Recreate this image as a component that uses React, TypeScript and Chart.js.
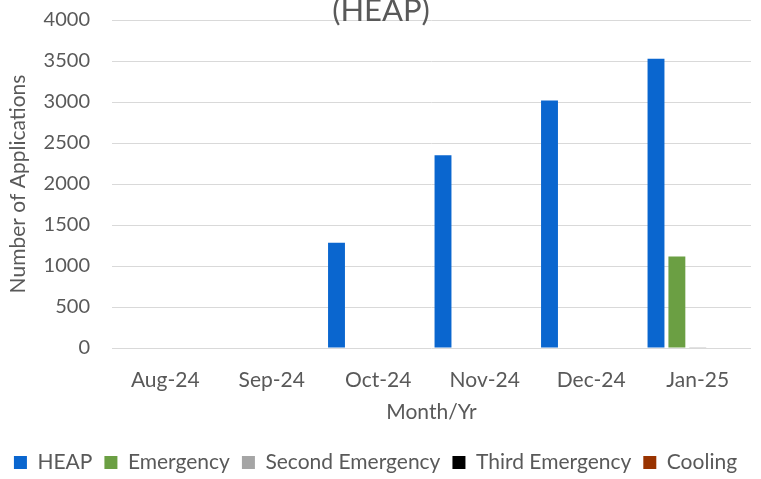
import React, { useEffect, useRef } from "react";
import { Chart, registerables } from "chart.js";

Chart.register(...registerables);

const categories = ["Aug-24", "Sep-24", "Oct-24", "Nov-24", "Dec-24", "Jan-25"];
const heap = [0, 0, 1285, 2352, 3018, 3527];
const emergency = [0, 0, 0, 0, 0, 1115];
const secondEmergency = [0, 0, 0, 0, 0, 10];
const thirdEmergency = [0, 0, 0, 0, 0, 0];
const cooling = [0, 0, 0, 0, 0, 0];
const titleText = "(HEAP)";
const xTitle = "Month/Yr";
const yTitle = "Number of Applications";

const FONT = "Lato, 'Open Sans', sans-serif";
const TEXT = "#595959";
const SHIFT = 14;

const titlePlugin = {
  id: "cutTitle",
  afterDraw(chart: any) {
    const ctx = chart.ctx;
    ctx.save();
    ctx.font = `31px ${FONT}`;
    ctx.fillStyle = TEXT;
    ctx.textAlign = "center";
    ctx.textBaseline = "alphabetic";
    ctx.fillText(titleText, 381, 21 + SHIFT);
    ctx.restore();
  },
};

export default function App() {
  const ref = useRef<HTMLCanvasElement>(null);
  useEffect(() => {
    if (!ref.current) return;
    const mk = (label: string, data: number[], color: string) => ({
      label,
      data,
      backgroundColor: color,
      borderWidth: 0,
      barPercentage: 0.81,
      categoryPercentage: 0.98,
    });
    const chart = new Chart(ref.current, {
      type: "bar",
      data: {
        labels: categories,
        datasets: [
          mk("HEAP", heap, "#0A66CF"),
          mk("Emergency", emergency, "#6B9F43"),
          mk("Second Emergency", secondEmergency, "#A5A5A5"),
          mk("Third Emergency", thirdEmergency, "#000000"),
          mk("Cooling", cooling, "#993300"),
        ],
      },
      options: {
        animation: false,
        responsive: false,
        maintainAspectRatio: false,
        layout: { padding: { top: -2, right: 10, left: 0, bottom: 0 } },
        plugins: {
          title: { display: false },
          tooltip: { enabled: false },
          legend: {
            position: "bottom",
            labels: {
              boxWidth: 13,
              boxHeight: 13,
              padding: 12,
              color: TEXT,
              font: { family: FONT, size: 21 },
            },
          },
        },
        scales: {
          x: {
            grid: { display: false },
            border: { display: false },
            ticks: { color: TEXT, font: { family: FONT, size: 21 }, padding: 12 },
            title: {
              display: true,
              text: xTitle,
              color: TEXT,
              font: { family: FONT, size: 21 },
              padding: { top: 0, bottom: 15 },
            },
            afterFit: (s: any) => {
              s.height = 92;
            },
          },
          y: {
            min: 0,
            max: 4000,
            ticks: {
              stepSize: 500,
              color: TEXT,
              font: { family: FONT, size: 20 },
              padding: 22,
              callback: (v: any) => String(v),
            },
            grid: { color: "#D9D9D9", lineWidth: 1, drawTicks: false },
            border: { display: false },
            title: {
              display: true,
              text: yTitle,
              color: TEXT,
              font: { family: FONT, size: 21 },
              padding: { top: 6, bottom: 4 },
            },
            afterFit: (s: any) => {
              s.width = 112;
            },
          },
        },
      },
      plugins: [titlePlugin],
    });
    return () => chart.destroy();
  }, []);
  return (
    <div style={{ position: "fixed", left: 0, top: 0, width: 761, height: 479, overflow: "hidden", background: "#fff" }}>
      <canvas
        ref={ref}
        width={761}
        height={497}
        style={{ position: "absolute", left: 0, top: -SHIFT, width: 761, height: 497 }}
      />
    </div>
  );
}
